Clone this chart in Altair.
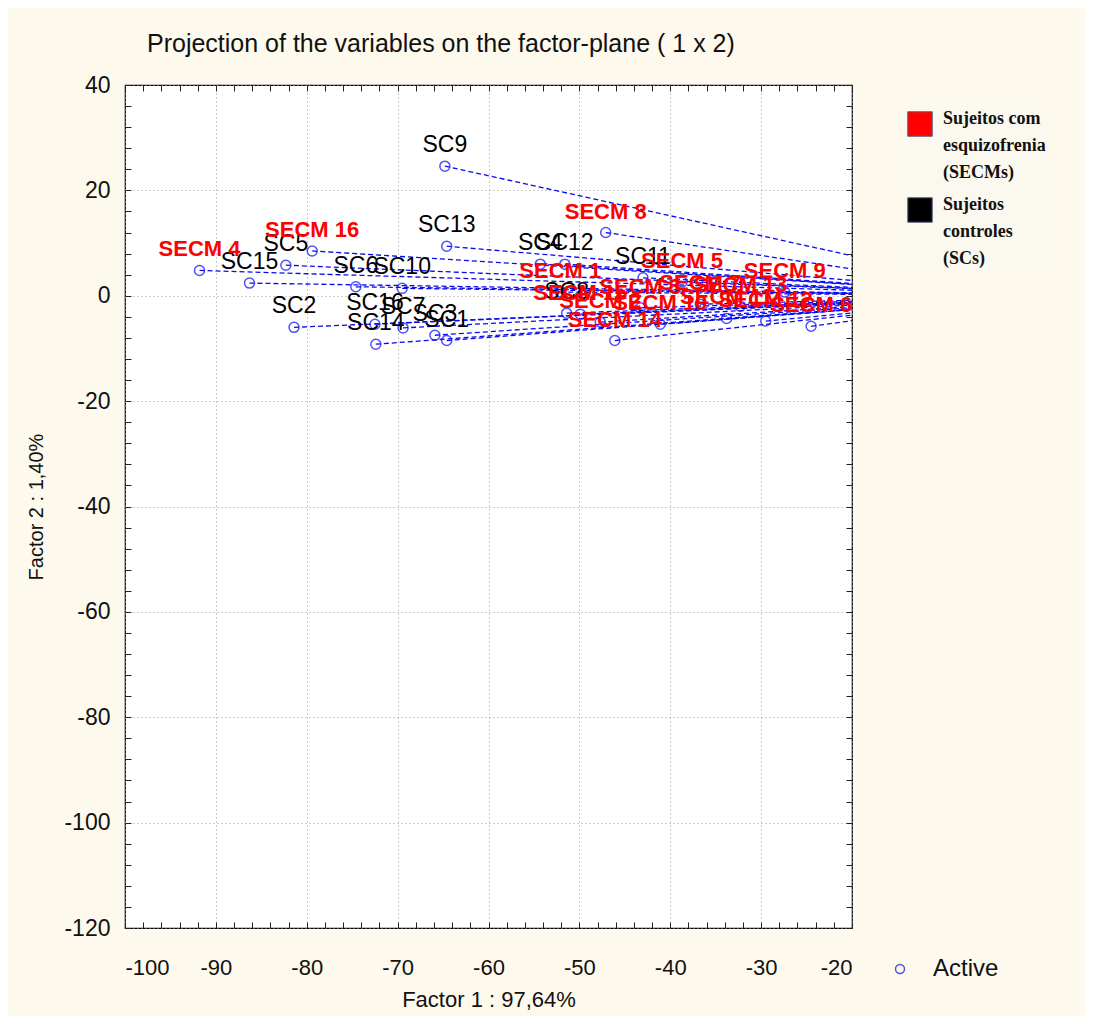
import altair as alt
import pandas as pd

# ---------------- data ----------------
sc_names = ["SC1", "SC2", "SC3", "SC4", "SC5", "SC6", "SC7", "SC8",
            "SC9", "SC10", "SC11", "SC12", "SC13", "SC14", "SC15", "SC16"]
sc_x = [-64.6, -81.4, -65.9, -54.3, -82.3, -74.6, -69.4, -51.4,
        -64.8, -69.5, -43.0, -51.6, -64.6, -72.4, -86.3, -72.5]
sc_y = [-8.5, -6.0, -7.5, 6.0, 5.8, 1.7, -6.1, -3.3,
        24.6, 1.4, 3.4, 6.0, 9.4, -9.2, 2.4, -5.4]

secm_names = ["SECM 1", "SECM 2", "SECM 3", "SECM 4", "SECM 5", "SECM 6", "SECM 7", "SECM 8",
              "SECM 9", "SECM 10", "SECM 11", "SECM 12", "SECM 13", "SECM 14", "SECM 15", "SECM 16"]
secm_x = [-52.1, -47.7, -43.3, -91.8, -38.7, -24.5, -36.7, -47.1,
          -27.4, -41.1, -33.8, -29.5, -32.3, -46.1, -49.9, -79.4]
secm_y = [0.7, -5.0, -2.3, 4.8, 2.6, -5.8, -1.6, 12.0,
          0.7, -5.4, -4.3, -4.8, -2.0, -8.5, -3.5, 8.5]

x_major = list(range(-100, -19, 10))
x_minor = list(range(-100, -19, 2))
y_major = list(range(-120, 41, 20))
y_minor = list(range(-120, 41, 4))

legend_secm_lines = ["Sujeitos com", "esquizofrenia", "(SECMs)"]
legend_sc_lines = ["Sujeitos", "controles", "(SCs)"]

df_sc = pd.DataFrame({"name": sc_names, "x": sc_x, "y": sc_y})
df_sc["group"] = "SC"
df_secm = pd.DataFrame({"name": secm_names, "x": secm_x, "y": secm_y})
df_secm["group"] = "SECM"
df = pd.concat([df_secm, df_sc], ignore_index=True)
df["ox"] = 0.0   # projection origin
df["oy"] = 0.0
df["status"] = "Active"

# ---------------- styling ----------------
FONT = "Liberation Sans"
BLUE = "#0a0af0"
xs = alt.Scale(domain=[-100, -20], nice=False, zero=False)
ys = alt.Scale(domain=[-120, 40], nice=False, zero=False)


def tick_axis(orient, values):
    return alt.Axis(orient=orient, values=values, labels=False, domain=False,
                    grid=False, ticks=True, tickSize=6, offset=-6,
                    tickColor="#222222", tickWidth=1, title=None)


main_x_axis = alt.Axis(orient="bottom", values=x_major, grid=True, gridDash=[1, 3],
                       gridColor="#9a9a9a", gridWidth=1, ticks=False, tickSize=0,
                       domain=False, labelFont=FONT, labelFontSize=22, labelColor="#111111",
                       labelPadding=29, labelExpr="'' + datum.value",
                       title="Factor 1 : 97,64%", titleFont=FONT, titleFontSize=22,
                       titleFontWeight="normal", titleColor="#111111", titlePadding=11)
main_y_axis = alt.Axis(orient="left", values=y_major, grid=True, gridDash=[1, 3],
                       gridColor="#9a9a9a", gridWidth=1, ticks=False, tickSize=0,
                       domain=False, labelFont=FONT, labelFontSize=23, labelColor="#111111",
                       labelPadding=15, labelExpr="'' + datum.value",
                       title="Factor 2 :  1,40%", titleFont=FONT, titleFontSize=20,
                       titleFontWeight="normal", titleColor="#111111", titlePadding=17)


def js_list(lines):
    return "[" + ", ".join("'" + s + "'" for s in lines) + "]"


color_legend = alt.Legend(
    title=None, orient="none", legendX=778, legendY=22, padding=4,
    symbolType="square", symbolSize=600, symbolStrokeColor="#5a6080",
    symbolStrokeWidth=1, symbolOpacity=1,
    labelFont="Liberation Serif", labelFontSize=18, labelFontWeight="bold",
    labelColor="#111111", labelBaseline="alphabetic", labelOffset=10,
    labelLimit=300, rowPadding=13, fillColor="#fbf8f0",
    labelExpr="datum.label == 'SECM' ? " + js_list(legend_secm_lines) + " : " + js_list(legend_sc_lines),
)
color_enc = alt.Color("group:N",
                      scale=alt.Scale(domain=["SECM", "SC"], range=["#ff0000", "#000000"]),
                      legend=color_legend)

lines = alt.Chart(df).mark_rule(clip=True, color=BLUE, strokeDash=[5, 3], strokeWidth=1.3).encode(
    x=alt.X("x:Q", scale=xs, axis=main_x_axis),
    y=alt.Y("y:Q", scale=ys, axis=main_y_axis),
    x2="ox:Q",
    y2="oy:Q",
)

points = alt.Chart(df).mark_point(filled=False, color=BLUE, size=100, strokeWidth=1.5).encode(
    x=alt.X("x:Q", axis=tick_axis("top", x_minor)),
    y=alt.Y("y:Q", axis=tick_axis("right", y_minor)),
    shape=alt.Shape("status:N", scale=alt.Scale(range=["circle"]),
                    legend=alt.Legend(title=None, orient="none", legendX=763, legendY=872,
                                      padding=0, labelFont=FONT, labelFontSize=24,
                                      labelColor="#111111", labelOffset=21, symbolSize=80,
                                      symbolStrokeWidth=1.5)),
)

sc_text = alt.Chart(df_sc).mark_text(font=FONT, fontSize=23, dy=-14, baseline="alphabetic").encode(
    x=alt.X("x:Q", axis=tick_axis("bottom", x_minor)),
    y=alt.Y("y:Q", axis=tick_axis("left", y_minor)),
    text="name:N",
    color=color_enc,
)

secm_text = alt.Chart(df_secm).mark_text(font=FONT, fontSize=22, fontWeight="bold", dy=-14,
                                         baseline="alphabetic").encode(
    x=alt.X("x:Q", axis=None),
    y=alt.Y("y:Q", axis=None),
    text="name:N",
    color=color_enc,
)

chart = alt.layer(lines, points, sc_text, secm_text).resolve_axis(
    x="independent", y="independent"
).properties(
    width=727,
    height=843,
    autosize=alt.AutoSizeParams(type="none"),
    padding={"left": 117, "top": 77, "right": 233, "bottom": 88},
    background="#fdf9ec",
    title=alt.TitleParams("Projection of the variables on the factor-plane ( 1 x  2)",
                          anchor="start", frame="group", dx=22, offset=17,
                          font=FONT, fontSize=25, fontWeight="normal", color="#111111"),
).configure(
    style={"guide-label": {"lineHeight": 27}}
).configure_view(
    stroke="#000000", strokeWidth=1.2, fill="white"
)

chart.save("out.html", embed_options={"renderer": "svg", "actions": False})
